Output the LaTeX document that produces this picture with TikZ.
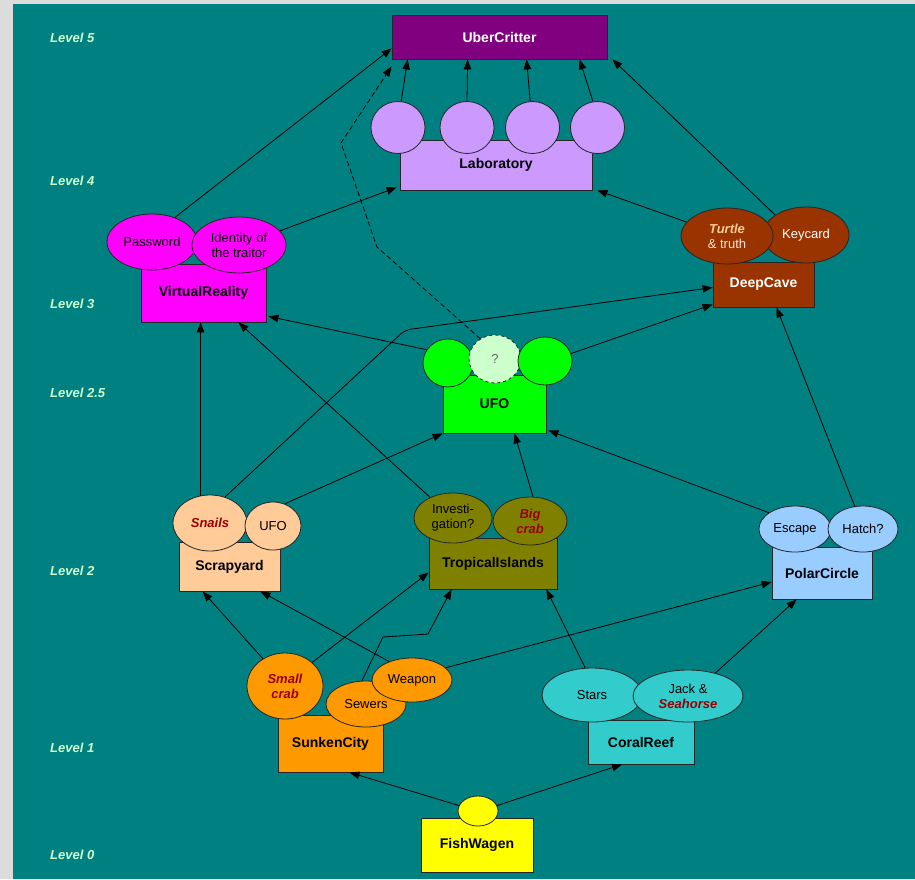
\documentclass[tikz,border=0pt]{standalone}
\usepackage{fontspec}
\setmainfont{Liberation Sans}
\usepackage{xcolor}
\usepackage{tikz}
\usetikzlibrary{
        arrows.meta,
        shapes.geometric
    }

\definecolor{sea}{HTML}{008080}
\definecolor{frame}{HTML}{DCDCDC}
\definecolor{levelgreen}{HTML}{CCFFCC}
\definecolor{critter}{HTML}{800080}
\definecolor{labcol}{HTML}{CC99FF}
\definecolor{vrcol}{HTML}{FF00FF}
\definecolor{cavecol}{HTML}{993300}
\definecolor{turtlecol}{HTML}{FFCC99}
\definecolor{truthcol}{HTML}{FFE6D5}
\definecolor{ufocol}{HTML}{00FF00}
\definecolor{scrapcol}{HTML}{FFCC99}
\definecolor{islandcol}{HTML}{808000}
\definecolor{sunkcol}{HTML}{FF9900}
\definecolor{reefcol}{HTML}{33CCCC}
\definecolor{polarcol}{HTML}{99CCFF}
\definecolor{wagencol}{HTML}{FFFF00}
\definecolor{keyred}{HTML}{990000}
\newcommand{\hint}[1]{\textcolor{keyred}{\textbf{\textit{#1}}}}

\begin{document}
\begin{tikzpicture}[x=1pt, y=-1pt,
box/.style={rectangle, draw=black!85, line width=0.8pt, inner sep=0pt, font=\fontsize{14}{16}\selectfont\bfseries},
item/.style={ellipse, draw=black!85, line width=0.8pt, inner sep=0pt, align=center, font=\fontsize{13}{15}\selectfont},
level/.style={anchor=west, inner sep=0pt, text=levelgreen, font=\fontsize{13}{15}\selectfont\bfseries\itshape},
link/.style={line width=0.8pt, -{Triangle[length=10pt,width=7.5pt]}},
]

\useasboundingbox (0,0) rectangle (915,879);
\fill[frame] (0,0) rectangle (915,879);
\fill[sea] (13,4) rectangle (915,879);

\node (level5) [level] at (50,38) {Level 5};
\node (level4) [level] at (50,181) {Level 4};
\node (level3) [level] at (50,304) {Level 3};
\node (level25) [level] at (50,393) {Level 2.5};
\node (level2) [level] at (50,571) {Level 2};
\node (level1) [level] at (50,748) {Level 1};
\node (level0) [level] at (50,855) {Level 0};

\node (uber) [box, fill=critter, text=white, minimum width=215, minimum height=44] at (499.5,37) {UberCritter};

\node (lab) [box, fill=labcol, minimum width=192, minimum height=50] at (496,165) {Laboratory};
\foreach \i/\x in {1/398, 2/467, 3/532.5, 4/597.5}
  \node (lab\i) [item, fill=labcol, minimum width=54, minimum height=52] at (\x,127.5) {};

\node (vr) [box, fill=vrcol, minimum width=125, minimum height=58] at (203.5,293) {VirtualReality};
\node (pass) [item, fill=vrcol, minimum width=90, minimum height=56] at (152,242) {Password};
\node (ident) [item, fill=vrcol, minimum width=94, minimum height=56] at (239,245) {Identity of\\the traitor};

\node (cave) [box, fill=cavecol, text=white, minimum width=101, minimum height=45] at (763.5,284.5) {DeepCave};
\node (keycard) [item, fill=cavecol, text=white, minimum width=86, minimum height=56] at (806,235) {Keycard};
\node (turtle) [item, fill=cavecol, text=truthcol, minimum width=92, minimum height=56] at (727,236) {\textcolor{turtlecol}{\textbf{\textit{Turtle}}}\\\& truth};

\node (ufo) [box, fill=ufocol, minimum width=103, minimum height=58] at (494.5,404) {UFO};
\node (ufoleft) [item, fill=ufocol, minimum width=50, minimum height=48] at (448,363) {};
\node (unknown) [item, dashed, fill=levelgreen, text=black!60, minimum width=52, minimum height=48] at (495,359) {?};
\node (uforight) [item, fill=ufocol, minimum width=54, minimum height=48] at (545,361) {};

\node (scrap) [box, fill=scrapcol, minimum width=101, minimum height=49] at (229.5,566.5) {Scrapyard};
\node (snails) [item, fill=scrapcol, minimum width=74, minimum height=56] at (210,523) {\hint{Snails}};
\node (scrapufo) [item, fill=scrapcol, minimum width=56, minimum height=48] at (273,526) {UFO};

\node (islands) [box, fill=islandcol, minimum width=128, minimum height=51] at (493,563.5) {TropicalIslands};
\node (investig) [item, fill=islandcol, minimum width=78, minimum height=50] at (453,518) {Investi-\\gation?};
\node (bigcrab) [item, fill=islandcol, minimum width=74, minimum height=48] at (530,521) {\hint{Big}\\\hint{crab}};

\node (sunken) [box, fill=sunkcol, minimum width=105, minimum height=57] at (330.5,743.5) {SunkenCity};
\node (smallcrab) [item, fill=sunkcol, minimum width=76, minimum height=66] at (285,686) {\hint{Small}\\\hint{crab}};
\node (sewers) [item, fill=sunkcol, minimum width=80, minimum height=46] at (366,704) {Sewers};
\node (weapon) [item, fill=sunkcol, minimum width=80, minimum height=44] at (412,680) {Weapon};

\node (reef) [box, fill=reefcol, minimum width=106, minimum height=44] at (641,742) {CoralReef};
\node (stars) [item, fill=reefcol, minimum width=100, minimum height=54] at (592,695) {Stars};
\node (jack) [item, fill=reefcol, minimum width=110, minimum height=52] at (688,696) {Jack \&\\\hint{Seahorse}};

\node (polar) [box, fill=polarcol, minimum width=100, minimum height=52] at (822,573) {PolarCircle};
\node (escape) [item, fill=polarcol, minimum width=72, minimum height=46] at (795,529) {Escape};
\node (hatch) [item, fill=polarcol, minimum width=70, minimum height=46] at (863,529) {Hatch?};

\node (wagen) [box, fill=wagencol, minimum width=112, minimum height=54] at (477,845) {FishWagen};
\node (wagenhead) [item, fill=wagencol, minimum width=40, minimum height=30] at (478,811) {};

\coordinate (qbend1) at (377,247);
\coordinate (qbend2) at (341,143);
\coordinate (snailbend) at (405,330);
\coordinate (sewerbend1) at (383,637);
\coordinate (sewerbend2) at (428,634);

\foreach \i/\a/\s in {1/83/16, 2/90/76, 3/95/135, 4/100/188}
  \draw[link] (lab\i.\a) -- ([xshift=\s]uber.south west);
\draw[link] (pass.47) -- ([yshift=11]uber.south west);
\draw[link, dash pattern=on 5pt off 3pt] (unknown.126) -- (qbend1) -- (qbend2) -- ([yshift=-7]uber.south west);
\draw[link] (keycard.147) -- ([xshift=5]uber.south east);
\draw[link] (ident.19) -- ([xshift=-3,yshift=3]lab.south west);
\draw[link] (turtle.161) -- ([xshift=5]lab.south east);
\draw[link] (ufoleft.148) -- ([xshift=2,yshift=6]vr.south east);
\draw[link] (uforight.16) -- ([yshift=3]cave.south west);
\draw[link] (snails.109) -- (snails.109 |- vr.south);
\draw[link, rounded corners=6] (snails.60) -- (snailbend) -- ([yshift=-3]cave.west);
\draw[link] (scrapufo.62) -- (ufo.south west);
\draw[link] (investig.138) -- ([xshift=35]vr.south);
\draw[link] (bigcrab.83) -- ([xshift=20]ufo.south);
\draw[link] (smallcrab.129) -- ([xshift=24]scrap.south west);
\draw[link] (smallcrab.41) -- ([yshift=-9]islands.west);
\draw[link] (sewers.100) -- (sewerbend1) -- (sewerbend2) -- ([xshift=23]islands.south west);
\draw[link] (weapon.141) -- ([xshift=31]scrap.south);
\draw[link] (weapon.20) -- ([yshift=-9]polar.west);
\draw[link] (stars.104) -- ([xshift=-11]islands.south east);
\draw[link] (jack.40) -- ([xshift=25]polar.south west);
\draw[link] (escape.148) -- ([xshift=2,yshift=3]ufo.south east);
\draw[link] (hatch.110) -- ([xshift=13]cave.south);
\draw[link] (wagenhead.164) -- ([xshift=19]sunken.south);
\draw[link] (wagenhead.16) -- ([xshift=-19]reef.south);

\end{tikzpicture}
\end{document}
